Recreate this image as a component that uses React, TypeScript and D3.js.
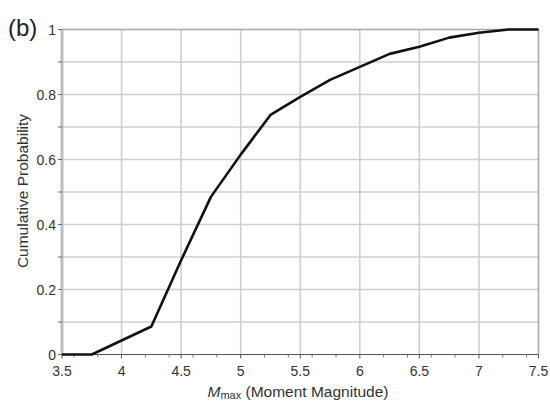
import React from "react";
import * as d3 from "d3";

const magnitudes = [3.5, 3.75, 4.0, 4.25, 4.5, 4.75, 5.0, 5.25, 5.5, 5.75, 6.0, 6.25, 6.5, 6.75, 7.0, 7.25, 7.5];
const cumProb = [0, 0, 0.043, 0.086, 0.29, 0.485, 0.615, 0.737, 0.793, 0.845, 0.885, 0.925, 0.947, 0.975, 0.99, 1.0, 1.0];
const xMajorTicks = [3.5, 4, 4.5, 5, 5.5, 6, 6.5, 7, 7.5];
const xMinorTicks = [3.6, 3.8, 4.2, 4.4, 4.6, 4.8, 5.2, 5.4, 5.6, 5.8, 6.2, 6.4, 6.6, 6.8, 7.2, 7.4];
const yGridTicks = [0, 0.1, 0.2, 0.3, 0.4, 0.5, 0.6, 0.7, 0.8, 0.9, 1];
const yLabelTicks = [0, 0.2, 0.4, 0.6, 0.8, 1];

export default function App() {
  const W = 550, H = 401;
  const left = 62, right = 538.5, top = 29.5, bottom = 354.5;
  const x = d3.scaleLinear().domain([3.5, 7.5]).range([left, right]);
  const y = d3.scaleLinear().domain([0, 1]).range([bottom, top]);
  const line = d3.line<number>().x((_, i) => x(magnitudes[i])).y((d) => y(d));
  const font = "'Liberation Sans', Arial, sans-serif";
  return (
    <svg width={W} height={H} style={{ position: "absolute", left: 0, top: 0 }} fontFamily={font}>
      <rect width={W} height={H} fill="#fff" />
      {/* grid */}
      {xMajorTicks.slice(1, -1).map((t) => (
        <line key={"gx" + t} x1={x(t)} x2={x(t)} y1={top} y2={bottom} stroke="#cfcfcf" strokeWidth={1.6} />
      ))}
      {yGridTicks.slice(1, -1).map((t) => (
        <line key={"gy" + t} x1={left} x2={right} y1={y(t)} y2={y(t)} stroke="#cfcfcf" strokeWidth={1.6} />
      ))}
      {/* frame */}
      <line x1={left} x2={right} y1={top} y2={top} stroke="#a8a8a8" strokeWidth={1.6} />
      <line x1={right} x2={right} y1={top} y2={bottom} stroke="#a8a8a8" strokeWidth={1.6} />
      <line x1={left} x2={left} y1={top} y2={bottom} stroke="#bdbdbd" strokeWidth={3} />
      <line x1={left} x2={right} y1={bottom} y2={bottom} stroke="#555" strokeWidth={1.2} />
      {/* x ticks */}
      {xMajorTicks.map((t) => (
        <line key={"xt" + t} x1={x(t)} x2={x(t)} y1={bottom} y2={bottom + 4} stroke="#555" strokeWidth={1} />
      ))}
      {xMinorTicks.map((t) => (
        <line key={"xm" + t} x1={x(t)} x2={x(t)} y1={bottom} y2={bottom + 3} stroke="#777" strokeWidth={1} />
      ))}
      {xMajorTicks.map((t) => (
        <text key={"xl" + t} x={x(t)} y={bottom + 21} textAnchor="middle" fontSize={14} fill="#333">
          {String(t)}
        </text>
      ))}
      {/* y ticks */}
      {yGridTicks.map((t) => (
        <line key={"yt" + t} x1={left - 4} x2={left} y1={y(t)} y2={y(t)} stroke="#666" strokeWidth={1} />
      ))}
      {yLabelTicks.map((t) => (
        <text key={"yl" + t} x={left - 6} y={y(t) + 5} textAnchor="end" fontSize={14} fill="#333">
          {String(t)}
        </text>
      ))}
      {/* curve */}
      <path d={line(cumProb) || ""} fill="none" stroke="#111" strokeWidth={2.6} strokeLinejoin="round" />
      {/* labels */}
      <text x={8} y={36} fontSize={24} fill="#222">(b)</text>
      <text transform={`translate(28, 191) rotate(-90)`} textAnchor="middle" fontSize={15.5} fill="#333">
        Cumulative Probability
      </text>
      <text x={298} y={397} textAnchor="middle" fontSize={15.5} fill="#333">
        <tspan fontStyle="italic">M</tspan>
        <tspan fontSize={11} dy={2}>max</tspan>
        <tspan dy={-2}> (Moment Magnitude)</tspan>
      </text>
    </svg>
  );
}
